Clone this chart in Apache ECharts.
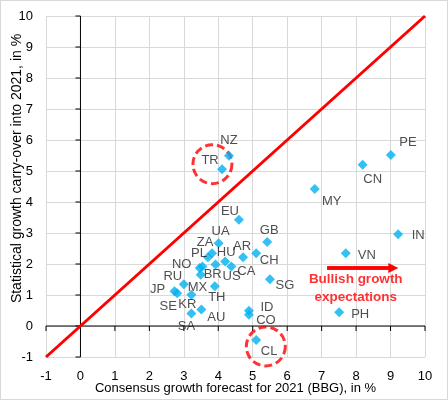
<!DOCTYPE html>
<html>
<head>
<meta charset="utf-8">
<script src="https://cdn.jsdelivr.net/npm/echarts@6/dist/echarts.min.js"></script>
<style>
  html, body { margin: 0; padding: 0; background: #fff; }
  #chart { width: 448px; height: 400px; box-sizing: border-box; border: 1px solid #d9d9d9; }
</style>
</head>
<body>
<div id="chart"></div>
<script>
// country codes, consensus forecast 2021 (x) and carry-over into 2021 (y)
const countries = ['NZ', 'TR', 'PE', 'CN', 'MY', 'IN', 'VN', 'PH', 'EU', 'GB', 'UA', 'AR', 'CH', 'HU', 'CA', 'US',
  'ZA', 'PL', 'NO', 'MX', 'BR', 'RU', 'JP', 'SE', 'KR', 'TH', 'SA', 'AU', 'SG', 'ID', 'CO', 'CL'];
const forecast = [4.31, 4.11, 9.01, 8.19, 6.80, 9.22, 7.70, 7.51, 4.60, 5.42, 4.01, 4.72, 5.10, 4.20, 4.38, 3.92,
  3.82, 3.70, 3.46, 3.54, 3.49, 3.00, 2.73, 2.81, 3.22, 3.90, 3.22, 3.51, 5.50, 4.89, 4.89, 5.10];
const carryOver = [5.49, 5.06, 5.52, 5.20, 4.42, 2.96, 2.35, 0.44, 3.43, 2.71, 2.67, 2.22, 2.35, 2.08, 1.92, 1.98,
  2.35, 2.22, 1.87, 1.92, 1.65, 1.35, 1.12, 1.06, 1.01, 1.28, 0.40, 0.53, 1.51, 0.49, 0.36, -0.45];

// tick values shared by both axes
const ticks = [-1, 0, 1, 2, 3, 4, 5, 6, 7, 8, 9, 10];
// 45 degree reference line
const diagonal = [[-1, -1], [10, 10]];
// dashed circles around TR and CL
const circled = [[3.83, 5.22], [5.38, -0.66]];
// arrow and its caption
const arrow = [[7.16, 1.87], [9.08, 1.87]];
const caption = [[7.99, 1.22]];

// label offsets in px from the marker centre
const labelOffset = {
  NZ: [0, -15], TR: [-12, -9], PE: [17, -12], CN: [10, 15], MY: [17, 12], IN: [20, 1], VN: [21, 2], PH: [21, 2],
  EU: [-9, -8], GB: [2, -12], UA: [2, -12], AR: [-1, -11], CH: [13, 7], HU: [1, -9], CA: [15, 5], US: [16, 12],
  ZA: [-7, -11], PL: [-9, -4], NO: [-18, -4], MX: [-5, 21], BR: [12, 0], RU: [-11, -8], JP: [-17, -2], SE: [-9, 13],
  KR: [-4, 10], TH: [2, 11], SA: [-5, 13], AU: [15, 8], SG: [15, 6], ID: [18, -3], CO: [17, 6], CL: [13, 11]
};

const font = 'Liberation Sans';
const chart = echarts.init(document.getElementById('chart'));

let points = countries.map((c, i) => ({
  name: c,
  value: [forecast[i], carryOver[i]]
}));

let axisBase = {
  type: 'value', min: ticks[0], max: ticks[ticks.length - 1], interval: 1,
  axisLine: {show: false, onZero: false},
  axisTick: {show: false},
  axisLabel: {color: '#000', fontSize: 13, margin: 13},
  splitLine: {lineStyle: {color: '#d9d9d9'}},
  nameLocation: 'middle',
  nameMoveOverlap: false
};

// axes cross at zero: draw the lines and the small outward ticks there
const renderAxesAtZero = (params, api) => {
  let v = api.value(0);
  let px = api.coord([v, 0]);
  let py = api.coord([0, v]);
  let style = {stroke: '#000', lineWidth: 1};
  let children = [
    {type: 'line', shape: {x1: px[0], y1: px[1], x2: px[0], y2: px[1] + 5}, style: style},
    {type: 'line', shape: {x1: py[0] - 5, y1: py[1], x2: py[0], y2: py[1]}, style: style}
  ];
  if (params.dataIndex === 0) {
    let a = api.coord([ticks[0], 0]);
    let b = api.coord([ticks[ticks.length - 1], 0]);
    let c = api.coord([0, ticks[0]]);
    let d = api.coord([0, ticks[ticks.length - 1]]);
    children.push({type: 'line', shape: {x1: a[0], y1: a[1], x2: b[0], y2: b[1]}, style: style});
    children.push({type: 'line', shape: {x1: c[0], y1: c[1], x2: d[0], y2: d[1]}, style: style});
  }
  return {type: 'group', children: children};
};

let option = {
  animation: false,
  textStyle: {fontFamily: font},
  grid: {left: 45, right: 22, top: 15, bottom: 42, outerBoundsMode: 'none', containLabel: false},
  xAxis: {
    ...axisBase,
    name: 'Consensus growth forecast for 2021 (BBG), in %',
    nameGap: 25,
    nameTextStyle: {color: '#000', fontSize: 13}
  },
  yAxis: {
    ...axisBase,
    name: 'Statistical growth carry-over into 2021, in %',
    nameGap: 22,
    nameTextStyle: {color: '#000', fontSize: 14, padding: [0, 0, 0, 36]}
  },
  series: [{
    type: 'custom',
    data: ticks.map(t => [t]),
    renderItem: renderAxesAtZero,
    silent: true,
    z: 2
  }, {
    type: 'line',
    data: diagonal,
    symbol: 'none',
    lineStyle: {color: '#ff0000', width: 3},
    z: 3
  }, {
    type: 'scatter',
    data: circled,
    symbol: 'circle',
    symbolSize: 39,
    itemStyle: {color: 'none', borderColor: '#ff0000', borderWidth: 3, borderType: [8, 4]},
    z: 3
  }, {
    type: 'line',
    data: arrow,
    symbol: 'none',
    lineStyle: {color: '#ff0000', width: 3.5},
    z: 3,
    markLine: {
      silent: true,
      symbol: ['none', 'triangle'],
      symbolSize: [10, 10],
      label: {show: false},
      lineStyle: {color: '#ff0000', width: 3.5, type: 'solid'},
      data: [[{coord: arrow[0]}, {coord: arrow[1]}]]
    }
  }, {
    type: 'scatter',
    data: caption,
    symbolSize: 0,
    label: {
      show: true,
      position: 'inside',
      formatter: 'Bullish growth\nexpectations',
      color: '#ff0000',
      fontWeight: 'bold',
      fontSize: 13.5,
      lineHeight: 18,
      fontFamily: font
    },
    z: 4
  }, {
    type: 'scatter',
    data: points,
    symbol: 'diamond',
    symbolSize: 10,
    itemStyle: {color: '#00b0f0'},
    label: {
      show: true,
      position: 'inside',
      formatter: '{b}',
      color: '#222',
      fontSize: 13,
      fontFamily: font
    },
    labelLayout: (p) => {
      let o = labelOffset[countries[p.dataIndex]];
      return {dx: o[0], dy: o[1], hideOverlap: false};
    },
    z: 5
  }]
};

chart.setOption(option);
</script>
</body>
</html>
